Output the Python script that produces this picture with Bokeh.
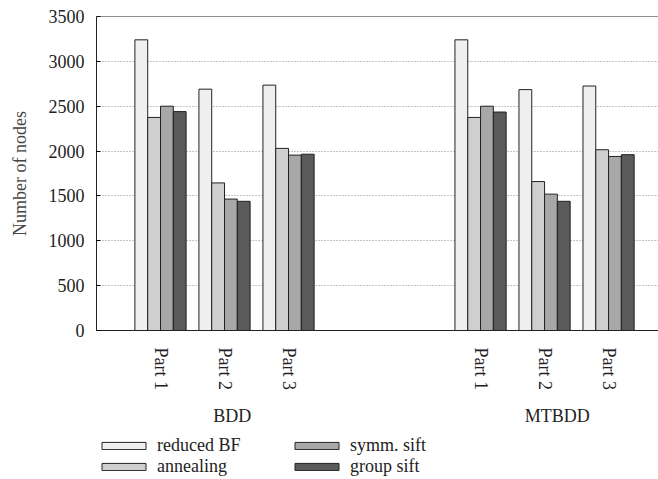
from bokeh.plotting import figure
from bokeh.models import FixedTicker, LinearAxis, Legend, LegendItem, Span, Range1d
from bokeh.layouts import column
from bokeh.embed import file_html
from bokeh.resources import INLINE
import math

# ---- data ----
parts = ["Part 1", "Part 2", "Part 3"]
groups = ["BDD", "MTBDD"]
series = ["reduced BF", "annealing", "symm. sift", "group sift"]

bdd_reduced = [3240, 2690, 2735]
bdd_annealing = [2375, 1645, 2030]
bdd_symm = [2500, 1465, 1955]
bdd_group = [2440, 1440, 1965]

mtbdd_reduced = [3240, 2685, 2725]
mtbdd_annealing = [2375, 1660, 2015]
mtbdd_symm = [2500, 1520, 1940]
mtbdd_group = [2435, 1440, 1960]

y_ticks = [0, 500, 1000, 1500, 2000, 2500, 3000, 3500]

# ---- layout helpers ----
group_offsets = [0, 5]          # slot offset of each group
bar_w = 0.2
fills = ["#efefef", "#cfcfcf", "#a8a8a8", "#5a5a5a"]
FONT = "Liberation Serif"

values = {
    "reduced BF": [bdd_reduced, mtbdd_reduced],
    "annealing": [bdd_annealing, mtbdd_annealing],
    "symm. sift": [bdd_symm, mtbdd_symm],
    "group sift": [bdd_group, mtbdd_group],
}

p = figure(width=658, height=430, x_range=Range1d(0, 8.78), y_range=Range1d(0, 3500),
           output_backend="svg", toolbar_location=None,
           min_border_left=96, min_border_right=0, min_border_top=16, min_border_bottom=100)
p.outline_line_color = None
p.background_fill_color = "white"

for i, s in enumerate(series):
    xs, tops = [], []
    for g, off in enumerate(group_offsets):
        for k in range(len(parts)):
            xs.append(off + k + 1 + (i - 1.5) * bar_w)
            tops.append(values[s][g][k])
    p.vbar(x=xs, top=tops, width=bar_w, fill_color=fills[i],
           line_color="#222222", line_width=1)

# grid
p.xgrid.grid_line_color = None
p.ygrid.ticker = FixedTicker(ticks=y_ticks)
p.ygrid.grid_line_color = "#8a8a8a"
p.ygrid.grid_line_dash = "1 2"
p.add_layout(Span(location=3500, dimension="width", line_color="#222222", line_width=1))

# y axis
ya = p.yaxis[0]
ya.ticker = FixedTicker(ticks=y_ticks)
ya.axis_label = "Number of nodes"
ya.axis_label_text_font = FONT
ya.axis_label_text_font_style = "normal"
ya.axis_label_text_font_size = "18px"
ya.axis_label_standoff = 16
ya.major_label_text_font = FONT
ya.major_label_text_font_size = "18px"
ya.major_label_text_color = "#222222"
ya.major_label_standoff = 12
ya.major_tick_in = 4
ya.major_tick_out = 0
ya.minor_tick_line_color = None
ya.axis_line_color = "#222222"

# x axis (parts)
xa = p.xaxis[0]
part_ticks = [off + k + 1 for off in group_offsets for k in range(len(parts))]
xa.ticker = FixedTicker(ticks=part_ticks)
xa.major_label_overrides = {t: parts[j % 3] for j, t in enumerate(part_ticks)}
xa.major_label_orientation = -math.pi / 2
xa.major_label_text_font = FONT
xa.major_label_text_font_size = "18px"
xa.major_label_text_color = "#222222"
xa.major_label_standoff = 11
xa.major_tick_line_color = None
xa.minor_tick_line_color = None
xa.axis_line_color = "#222222"

# group axis
group_pos = [2.12, 7.2]
ga = LinearAxis(ticker=FixedTicker(ticks=group_pos),
                major_label_overrides={group_pos[0]: groups[0], group_pos[1]: groups[1]})
ga.axis_line_color = None
ga.major_tick_line_color = None
ga.minor_tick_line_color = None
ga.major_label_text_font = FONT
ga.major_label_text_font_size = "18px"
ga.major_label_text_color = "#222222"
ga.major_label_standoff = 7
p.add_layout(ga, "below")

# legend figure (its frame is aligned with the main frame by the column layout)
p2 = figure(width=658, height=49, x_range=Range1d(0, 1), y_range=Range1d(0, 1),
            output_backend="svg", toolbar_location=None,
            x_axis_location=None, y_axis_location=None,
            min_border_left=0, min_border_right=0, min_border_top=0, min_border_bottom=0)
p2.outline_line_color = None
p2.grid.visible = False
leg_renderers = []
for i, s in enumerate(series):
    r = p2.vbar(x=[0.5], top=[1], width=0.1, fill_color=fills[i],
                line_color="#222222", line_width=1)
    r.visible = False
    leg_renderers.append(r)

legend = Legend(items=[LegendItem(label=s, renderers=[leg_renderers[i]]) for i, s in enumerate(series)],
                ncols=2, orientation="vertical", location=(0, 2))
legend.label_text_font = FONT
legend.label_text_font_size = "18px"
legend.label_text_color = "#222222"
legend.glyph_width = 55
legend.glyph_height = 9
legend.label_standoff = 6
legend.label_width = 132
legend.label_height = 18
legend.spacing = 0
legend.padding = 6
legend.margin = 0
legend.border_line_color = None
legend.background_fill_alpha = 0
legend.inactive_fill_alpha = 0
p2.add_layout(legend)

open("out.html", "w").write(file_html(column(p, p2, spacing=0), INLINE))
